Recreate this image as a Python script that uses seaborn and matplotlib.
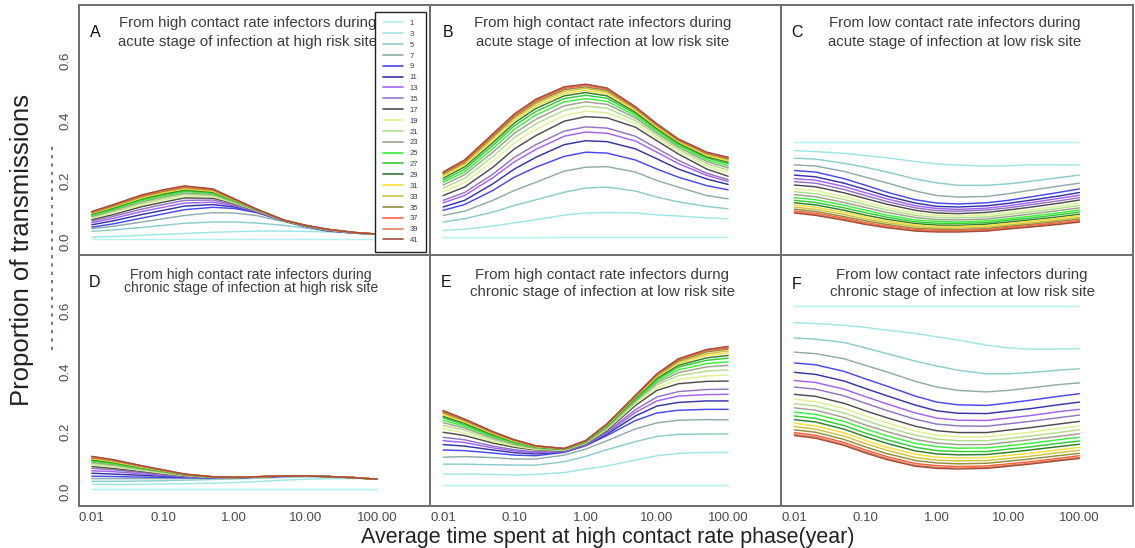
import numpy as np
import pandas as pd
import matplotlib
matplotlib.use("Agg")
import matplotlib.pyplot as plt
import seaborn as sns
from matplotlib.lines import Line2D
from matplotlib.ticker import NullLocator

# ---------------- data ----------------
x_points = [0.01, 0.02, 0.05, 0.1, 0.2, 0.5, 1, 2, 5, 10, 20, 50, 100]
series_labels = [str(i) for i in [1, 3, 5, 7, 9, 11, 13, 15, 17, 19, 21,
                                  23, 25, 27, 29, 31, 33, 35, 37, 39, 41]]
series_colors = ["#b4f2f2", "#9ee6e6", "#8ccccc", "#8eacac", "#4848f0", "#3434a8",
                 "#a462f2", "#9474c4", "#4e4e4e", "#def290", "#b0de8e", "#a0a08e",
                 "#3cf03c", "#34cc34", "#2e7e2e", "#f8de3a", "#d0c040", "#8e8e3e",
                 "#ff5e3c", "#e0805e", "#a24e3a"]

panel_letters = ["A", "B", "C", "D", "E", "F"]
panel_titles = [
    "From high contact rate infectors during\nacute stage of infection at high risk site",
    "From high contact rate infectors during\nacute stage of infection at low risk site",
    "From low contact rate infectors during\nacute stage of infection at low risk site",
    "From high contact rate infectors during\nchronic stage of infection at high risk site",
    "From high contact rate infectors durng\nchronic stage of infection at low risk site",
    "From low contact rate infectors during\nchronic stage of infection at low risk site",
]
xtick_values = [0.01, 0.1, 1, 10, 100]
xtick_labels = ["0.01", "0.10", "1.00", "10.00", "100.00"]
ytick_values = [0.0, 0.2, 0.4, 0.6]
ytick_labels = ["0.0", "0.2", "0.4", "0.6"]
x_label = "Average time spent at high contact rate phase(year)"
y_label = "Proportion of transmissions"

panel_A = [
    [.007, .007, .007, .007, .007, .007, .007, .007, .007, .007, .007, .007, .007],
    [.014, .016, .020, .023, .026, .030, .032, .034, .034, .033, .031, .028, .024],
    [.033, .038, .046, .053, .060, .064, .064, .061, .053, .044, .034, .027, .024],
    [.042, .050, .064, .075, .086, .095, .094, .086, .065, .048, .034, .027, .024],
    [.047, .058, .077, .091, .105, .113, .109, .096, .068, .049, .035, .027, .024],
    [.055, .068, .089, .103, .117, .122, .114, .098, .068, .050, .036, .027, .024],
    [.062, .076, .099, .113, .127, .130, .118, .099, .069, .050, .036, .027, .024],
    [.067, .083, .107, .122, .136, .137, .121, .101, .069, .051, .037, .028, .024],
    [.072, .089, .115, .130, .144, .143, .125, .102, .069, .051, .037, .028, .024],
    [.077, .094, .121, .137, .150, .148, .127, .103, .069, .051, .038, .028, .024],
    [.080, .099, .126, .142, .156, .152, .129, .104, .069, .052, .038, .028, .024],
    [.083, .103, .131, .147, .160, .156, .131, .104, .069, .052, .039, .028, .024],
    [.086, .106, .135, .151, .165, .159, .133, .105, .070, .052, .039, .028, .024],
    [.089, .109, .139, .155, .168, .162, .135, .106, .070, .052, .039, .028, .024],
    [.091, .112, .142, .158, .171, .164, .136, .106, .070, .052, .039, .029, .024],
    [.093, .114, .144, .161, .174, .166, .137, .107, .070, .053, .039, .029, .024],
    [.094, .116, .147, .164, .177, .169, .138, .107, .070, .053, .040, .029, .024],
    [.096, .118, .149, .166, .179, .170, .139, .107, .070, .053, .040, .029, .024],
    [.097, .120, .151, .168, .181, .172, .140, .108, .070, .053, .040, .029, .024],
    [.098, .121, .153, .170, .183, .173, .141, .108, .070, .053, .040, .029, .024],
    [.099, .122, .154, .171, .184, .174, .141, .108, .070, .053, .040, .029, .024],
]

panel_B = [
    [.012, .012, .012, .012, .012, .013, .013, .013, .013, .013, .013, .013, .013],
    [.036, .040, .051, .061, .072, .087, .094, .096, .094, .088, .084, .078, .075],
    [.064, .075, .097, .119, .138, .163, .177, .180, .167, .147, .131, .116, .108],
    [.086, .100, .136, .169, .196, .233, .246, .248, .230, .202, .180, .152, .141],
    [.103, .122, .169, .213, .246, .282, .296, .293, .270, .240, .213, .185, .171],
    [.114, .136, .191, .240, .279, .321, .334, .331, .307, .274, .240, .207, .189],
    [.128, .152, .211, .264, .305, .349, .363, .359, .333, .296, .258, .219, .199],
    [.136, .162, .223, .279, .321, .366, .380, .376, .349, .309, .269, .226, .205],
    [.152, .180, .246, .307, .351, .399, .414, .410, .379, .334, .290, .240, .216],
    [.165, .195, .265, .327, .372, .418, .432, .427, .391, .344, .299, .250, .227],
    [.177, .209, .282, .344, .390, .435, .449, .442, .401, .352, .306, .258, .236],
    [.187, .221, .296, .359, .405, .450, .463, .455, .410, .359, .313, .265, .244],
    [.196, .230, .308, .372, .419, .463, .474, .465, .417, .365, .318, .271, .251],
    [.203, .239, .319, .384, .431, .474, .485, .475, .424, .371, .323, .277, .258],
    [.210, .247, .328, .393, .441, .483, .494, .483, .429, .375, .327, .281, .263],
    [.215, .253, .336, .401, .449, .491, .501, .490, .434, .379, .331, .285, .267],
    [.220, .258, .343, .408, .456, .498, .508, .496, .438, .383, .334, .289, .271],
    [.224, .263, .348, .414, .462, .504, .513, .501, .442, .386, .336, .292, .274],
    [.227, .266, .353, .418, .467, .508, .518, .505, .444, .388, .338, .294, .277],
    [.229, .269, .356, .421, .470, .511, .520, .507, .446, .389, .339, .295, .278],
    [.230, .270, .357, .423, .472, .513, .522, .509, .447, .390, .340, .296, .279],
]

panel_C = [
    [.331, .331, .331, .331, .331, .331, .331, .331, .331, .331, .331, .331, .331],
    [.301, .298, .292, .285, .277, .265, .257, .253, .250, .251, .254, .254, .253],
    [.276, .273, .259, .246, .230, .207, .194, .186, .186, .191, .199, .211, .220],
    [.254, .250, .232, .213, .194, .167, .152, .147, .149, .158, .169, .183, .193],
    [.235, .230, .208, .186, .163, .138, .127, .124, .128, .136, .147, .162, .174],
    [.220, .214, .193, .172, .150, .127, .116, .114, .118, .126, .136, .150, .162],
    [.208, .203, .182, .161, .141, .118, .109, .106, .110, .118, .128, .142, .153],
    [.198, .193, .172, .152, .132, .111, .102, .100, .104, .111, .121, .134, .145],
    [.187, .181, .161, .142, .123, .103, .094, .092, .096, .104, .113, .126, .137],
    [.174, .168, .149, .130, .112, .093, .086, .084, .088, .095, .104, .116, .127],
    [.165, .158, .139, .121, .104, .086, .079, .078, .081, .089, .097, .109, .119],
    [.155, .148, .129, .112, .096, .079, .072, .071, .074, .082, .090, .102, .111],
    [.145, .138, .120, .103, .087, .071, .066, .064, .068, .075, .083, .094, .104],
    [.136, .129, .111, .095, .080, .065, .060, .059, .062, .070, .077, .088, .097],
    [.128, .121, .103, .087, .073, .059, .054, .053, .057, .064, .071, .081, .090],
    [.121, .113, .096, .081, .067, .054, .049, .049, .052, .059, .066, .076, .085],
    [.114, .106, .089, .074, .062, .049, .044, .044, .047, .054, .061, .071, .079],
    [.107, .099, .082, .068, .056, .043, .040, .039, .042, .050, .056, .066, .074],
    [.101, .093, .077, .062, .051, .039, .036, .036, .039, .046, .052, .061, .069],
    [.097, .089, .073, .059, .047, .036, .033, .033, .036, .043, .049, .058, .066],
    [.094, .086, .070, .056, .045, .034, .031, .031, .034, .041, .047, .056, .064],
]

panel_D = [
    [.009, .009, .009, .009, .009, .009, .009, .009, .009, .009, .009, .009, .009],
    [.025, .025, .025, .026, .027, .029, .031, .034, .039, .042, .044, .044, .042],
    [.035, .035, .036, .037, .039, .041, .043, .045, .048, .050, .049, .046, .042],
    [.044, .044, .044, .044, .045, .045, .046, .048, .051, .052, .050, .047, .042],
    [.052, .051, .049, .048, .047, .046, .046, .049, .052, .053, .051, .047, .042],
    [.062, .059, .055, .052, .049, .047, .046, .049, .052, .053, .051, .047, .042],
    [.070, .067, .060, .055, .050, .047, .047, .049, .052, .053, .051, .047, .042],
    [.078, .073, .064, .058, .052, .048, .047, .049, .052, .053, .051, .047, .042],
    [.084, .078, .068, .060, .053, .048, .047, .049, .053, .053, .051, .047, .042],
    [.090, .083, .071, .062, .054, .048, .047, .050, .053, .053, .051, .047, .042],
    [.094, .087, .073, .064, .055, .049, .047, .050, .053, .053, .051, .047, .042],
    [.098, .090, .076, .066, .055, .049, .047, .050, .053, .053, .051, .047, .042],
    [.102, .093, .078, .067, .056, .049, .048, .050, .053, .053, .051, .047, .042],
    [.105, .096, .079, .068, .057, .049, .048, .050, .053, .053, .051, .047, .042],
    [.107, .098, .081, .069, .057, .049, .048, .050, .053, .053, .051, .047, .042],
    [.110, .100, .082, .070, .058, .050, .048, .050, .053, .053, .051, .047, .042],
    [.112, .102, .084, .071, .058, .050, .048, .050, .053, .053, .051, .047, .042],
    [.114, .104, .085, .072, .058, .050, .048, .050, .053, .053, .051, .047, .042],
    [.116, .105, .086, .072, .059, .050, .048, .050, .053, .053, .051, .047, .042],
    [.117, .106, .086, .073, .059, .050, .048, .050, .053, .053, .051, .047, .042],
    [.118, .107, .087, .073, .059, .050, .048, .050, .053, .053, .051, .047, .042],
]

panel_E = [
    [.022, .022, .022, .022, .022, .022, .022, .022, .022, .022, .022, .022, .022],
    [.059, .059, .058, .056, .058, .064, .076, .086, .106, .120, .128, .131, .131],
    [.092, .092, .090, .089, .089, .100, .118, .140, .167, .184, .191, .192, .192],
    [.115, .117, .114, .109, .109, .122, .142, .170, .209, .229, .238, .240, .239],
    [.139, .137, .129, .122, .120, .131, .153, .187, .237, .262, .271, .274, .274],
    [.157, .152, .139, .130, .126, .133, .155, .192, .252, .285, .297, .302, .302],
    [.170, .164, .146, .136, .130, .134, .156, .196, .264, .302, .318, .323, .324],
    [.181, .173, .152, .140, .133, .135, .157, .199, .273, .315, .333, .340, .341],
    [.198, .187, .162, .148, .139, .137, .159, .204, .287, .337, .359, .367, .368],
    [.210, .196, .168, .152, .141, .138, .161, .208, .293, .346, .373, .385, .388],
    [.221, .205, .174, .156, .143, .139, .163, .211, .298, .355, .386, .401, .405],
    [.230, .212, .179, .159, .145, .140, .164, .214, .302, .362, .396, .415, .420],
    [.238, .218, .183, .162, .147, .141, .165, .216, .305, .368, .405, .426, .432],
    [.246, .223, .187, .165, .148, .142, .166, .219, .309, .373, .414, .437, .444],
    [.251, .228, .190, .167, .149, .142, .167, .220, .311, .378, .420, .445, .453],
    [.256, .232, .193, .168, .150, .143, .168, .222, .314, .382, .426, .453, .461],
    [.261, .235, .195, .170, .151, .143, .169, .223, .316, .385, .431, .459, .468],
    [.264, .238, .197, .171, .152, .143, .169, .224, .317, .388, .435, .465, .474],
    [.267, .240, .198, .172, .152, .144, .170, .225, .319, .390, .439, .469, .478],
    [.269, .241, .199, .173, .153, .144, .170, .226, .320, .391, .441, .471, .481],
    [.270, .242, .200, .173, .153, .144, .170, .226, .320, .392, .442, .473, .483],
]

panel_F = [
    [.618, .618, .618, .618, .618, .618, .618, .618, .618, .618, .618, .618, .618],
    [.562, .559, .553, .546, .537, .526, .515, .504, .487, .478, .474, .474, .476],
    [.511, .507, .496, .478, .459, .434, .418, .404, .392, .392, .396, .404, .409],
    [.464, .459, .442, .420, .398, .367, .348, .337, .332, .337, .345, .356, .362],
    [.428, .422, .400, .375, .351, .318, .298, .289, .287, .295, .304, .317, .326],
    [.397, .390, .368, .343, .319, .288, .269, .261, .260, .268, .276, .289, .298],
    [.370, .363, .341, .316, .292, .262, .245, .238, .237, .245, .253, .266, .274],
    [.348, .341, .319, .294, .270, .241, .225, .219, .218, .226, .234, .246, .255],
    [.324, .317, .294, .269, .246, .218, .203, .197, .197, .205, .213, .225, .234],
    [.308, .300, .277, .252, .229, .202, .188, .183, .183, .190, .198, .210, .219],
    [.293, .285, .262, .237, .214, .188, .175, .170, .170, .177, .185, .197, .206],
    [.279, .271, .247, .222, .200, .174, .162, .157, .157, .165, .173, .184, .193],
    [.265, .257, .234, .209, .186, .161, .150, .145, .146, .153, .161, .173, .181],
    [.252, .244, .220, .195, .173, .148, .137, .134, .134, .142, .149, .161, .169],
    [.240, .232, .208, .183, .161, .136, .126, .123, .124, .131, .139, .150, .158],
    [.228, .219, .196, .171, .148, .125, .115, .112, .114, .121, .128, .139, .148],
    [.217, .208, .185, .160, .138, .114, .105, .103, .104, .111, .118, .130, .138],
    [.206, .198, .174, .149, .127, .104, .096, .093, .095, .102, .109, .120, .128],
    [.197, .188, .164, .139, .117, .094, .087, .084, .086, .093, .100, .111, .120],
    [.191, .182, .158, .133, .111, .088, .081, .079, .081, .088, .095, .106, .114],
    [.187, .178, .154, .129, .107, .085, .078, .076, .078, .085, .092, .103, .111],
]

panels = [panel_A, panel_B, panel_C, panel_D, panel_E, panel_F]

# ---------------- styling ----------------
sns.set_style("white")
plt.rcParams["font.family"] = ["Liberation Sans", "DejaVu Sans"]

FRAME = "#6e6e6e"
TXT = "#3c3c3c"

fig, axes = plt.subplots(2, 3, figsize=(11.35, 5.48), dpi=100,
                         sharex=True, sharey=True)
fig.subplots_adjust(left=0.0696, right=0.998, top=0.991, bottom=0.0766,
                    wspace=0, hspace=0)

palette = dict(zip(series_labels, series_colors))

# (x, y, linespacing, fontsize) in axes coordinates
title_pos = [(0.479, 0.89, 1.4, 10.8), (0.49, 0.89, 1.4, 10.8),
             (0.494, 0.89, 1.4, 10.8), (0.49, 0.896, 0.95, 10.1),
             (0.49, 0.89, 1.27, 10.8), (0.514, 0.888, 1.33, 10.8)]
letter_pos = [(0.045, 0.888), (0.051, 0.888), (0.043, 0.888),
              (0.045, 0.892), (0.045, 0.892), (0.043, 0.884)]

for k, ax in enumerate(axes.flat):
    rows = []
    for lab, vals in zip(series_labels, panels[k]):
        for xv, yv in zip(x_points, vals):
            rows.append({"x": xv, "value": yv, "series": lab})
    df = pd.DataFrame(rows)
    sns.lineplot(data=df, x="x", y="value", hue="series", hue_order=series_labels,
                 palette=palette, estimator=None, sort=False, legend=False,
                 linewidth=1.05, ax=ax)
    ax.set_xscale("log")
    ax.set_xlim(0.0066, 560)
    ax.set_ylim(-0.047, 0.785)
    ax.set_xlabel("")
    ax.set_ylabel("")
    for sp in ax.spines.values():
        sp.set_color(FRAME)
        sp.set_linewidth(1.4)
    tx, ty, ls, fs = title_pos[k]
    ax.text(tx, ty, panel_titles[k], transform=ax.transAxes, ha="center",
            va="center", fontsize=fs, color=TXT, linespacing=ls, zorder=3)
    lx, ly = letter_pos[k]
    ax.text(lx, ly, panel_letters[k], transform=ax.transAxes, ha="center",
            va="center", fontsize=11.5, color="#111111", zorder=3)

for ax in axes.flat:
    ax.set_xticks(xtick_values)
    ax.xaxis.set_minor_locator(NullLocator())
    ax.set_yticks(ytick_values)
    ax.tick_params(axis="both", which="both", direction="out", length=3.5,
                   width=1, color=FRAME, labelcolor="#4a4a4a")

for ax in axes[1]:
    ax.set_xticklabels(xtick_labels, fontsize=9.5)
    ax.tick_params(axis="x", pad=1)
for ax in axes[0]:
    ax.tick_params(axis="x", bottom=False, labelbottom=False)
for r in range(2):
    axes[r, 0].set_yticklabels(ytick_labels, rotation=90, va="center", fontsize=9.5)
    axes[r, 0].tick_params(axis="y", pad=2)
    for c in (1, 2):
        axes[r, c].tick_params(axis="y", left=False, labelleft=False)

# legend in panel A
handles = [Line2D([0], [0], color=c, lw=1.2) for c in series_colors]
leg = axes[0, 0].legend(handles, series_labels, loc="upper left",
                        bbox_to_anchor=(0.844, 0.972), borderaxespad=0,
                        fontsize=5.5, handlelength=2.6, handletextpad=0.9,
                        labelspacing=0.46, borderpad=1.0, frameon=True,
                        fancybox=False, framealpha=1)
leg.get_frame().set_edgecolor("#222222")
leg.get_frame().set_linewidth(1.0)
leg.set_zorder(10)
for t in leg.get_texts():
    t.set_color(TXT)

# axis titles
fig.text(608 / 1135, 1 - 537 / 548, x_label, ha="center", va="center",
         fontsize=15.5, color="#222222")
fig.text(22 / 1135, 1 - 250 / 548, y_label, ha="center", va="center",
         rotation=90, fontsize=18.5, color="#222222")

# dotted artifact next to the y axis title
fig.add_artist(Line2D([52 / 1135, 52 / 1135], [1 - 350 / 548, 1 - 143 / 548],
                      transform=fig.transFigure, color="#4a64a8", lw=1.2,
                      linestyle=(0, (2, 3))))

fig.savefig("out.png", dpi=100)
